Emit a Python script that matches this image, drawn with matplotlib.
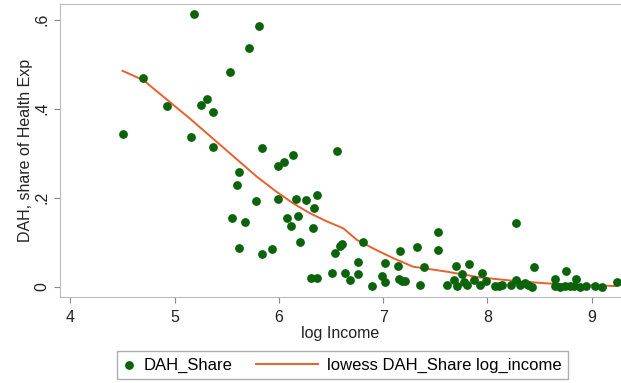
import numpy as np
import matplotlib.pyplot as plt
from matplotlib.legend_handler import HandlerPathCollection
from matplotlib.collections import PathCollection

plt.rcParams['font.family'] = ['Liberation Sans', 'DejaVu Sans']

# DAH share vs log income
log_income = [4.50, 4.70, 4.93, 5.16, 5.19, 5.25, 5.31, 5.37, 5.37, 5.53,
              5.71, 5.81, 5.84, 5.55, 5.60, 5.62, 5.62, 5.68, 5.78, 5.84,
              5.93, 5.99, 5.99, 6.05, 6.14, 6.08, 6.12, 6.16, 6.18, 6.20,
              6.26, 6.33, 6.34, 6.37, 6.31, 6.37, 6.51, 6.54, 6.59, 6.61,
              6.56, 6.63, 6.68, 6.76, 6.76, 6.81, 6.89, 6.99, 7.02, 7.02,
              7.16, 7.14, 7.15, 7.18, 7.21, 7.33, 7.39, 7.35, 7.53, 7.53,
              7.61, 7.70, 7.68, 7.71, 7.76, 7.82, 7.81, 7.78, 7.87, 7.93,
              7.95, 7.99, 8.07, 8.11, 8.14, 8.23, 8.28, 8.28, 8.31, 8.36,
              8.39, 8.43, 8.45, 8.65, 8.65, 8.70, 8.76, 8.75, 8.79, 8.85,
              8.83, 8.89, 8.95, 9.03, 9.10, 9.24]
dah_share = [0.342, 0.469, 0.406, 0.336, 0.613, 0.409, 0.422, 0.392, 0.315, 0.482,
             0.536, 0.585, 0.312, 0.155, 0.229, 0.257, 0.088, 0.145, 0.192, 0.074,
             0.085, 0.197, 0.271, 0.281, 0.297, 0.154, 0.137, 0.197, 0.160, 0.101,
             0.195, 0.132, 0.176, 0.206, 0.020, 0.020, 0.031, 0.075, 0.091, 0.096,
             0.306, 0.031, 0.015, 0.029, 0.056, 0.100, 0.002, 0.025, 0.010, 0.054,
             0.081, 0.047, 0.017, 0.013, 0.013, 0.089, 0.045, 0.005, 0.122, 0.082,
             0.004, 0.047, 0.015, 0.002, 0.029, 0.051, 0.004, 0.011, 0.015, 0.004,
             0.031, 0.013, 0.002, 0.002, 0.004, 0.004, 0.144, 0.015, 0.004, 0.008,
             0.004, 0.000, 0.044, 0.017, 0.002, 0.000, 0.036, 0.002, 0.002, 0.017,
             0.002, 0.000, 0.002, 0.002, 0.000, 0.010]

# lowess fit
lowess_x = [4.50, 4.70, 5.15, 5.47, 5.79, 5.98, 6.14, 6.30, 6.45, 6.62,
            6.75, 6.94, 7.10, 7.29, 7.61, 7.93, 8.25, 8.57, 8.89, 9.24]
lowess_y = [0.485, 0.464, 0.377, 0.312, 0.247, 0.213, 0.187, 0.165, 0.148, 0.131,
            0.105, 0.082, 0.064, 0.045, 0.034, 0.021, 0.0135, 0.0076, 0.004, 0.0016]


class ShortMarkerHandler(HandlerPathCollection):
    # narrow handle box for the scatter entry, like Stata's legend
    def legend_artist(self, legend, orig_handle, fontsize, handlebox):
        handlebox.width = 0.65 * fontsize
        return super().legend_artist(legend, orig_handle, fontsize, handlebox)


fig = plt.figure(figsize=(6.21, 3.83), dpi=100)
ax = fig.add_axes([0.0966, 0.2245, 0.9034, 0.765])

ax.scatter(log_income, dah_share, s=40, color='#0b640b', linewidths=0,
           label='DAH_Share', zorder=3)
ax.plot(lowess_x, lowess_y, color='#e8602c', lw=1.4,
        label='lowess DAH_Share log_income', zorder=2)

ax.set_xlim(3.9, 9.283)
ax.set_ylim(-0.023, 0.635)
ax.set_xticks([4, 5, 6, 7, 8, 9])
ax.set_yticks([0, 0.2, 0.4, 0.6])
ax.set_yticklabels(['0', '.2', '.4', '.6'], rotation=90, va='center')
ax.tick_params(direction='out', length=4, color='#888888', labelsize=11.5,
               labelcolor='#222222')
ax.tick_params(axis='x', pad=5)
for side in ['left', 'bottom', 'top']:
    ax.spines[side].set_color('#bbbbbb')
ax.spines['right'].set_visible(False)

ax.set_xlabel('log Income', fontsize=11.5, color='#222222', labelpad=1)
ax.set_ylabel('DAH, share of Health Exp', fontsize=11.5, color='#222222', labelpad=1)

fig.legend(loc='center', bbox_to_anchor=(0.552, 0.047), ncol=2, fontsize=12,
           frameon=True, fancybox=False, edgecolor='#999999', handlelength=3.7,
           handletextpad=0.55, columnspacing=1.4, borderpad=0.4,
           handler_map={PathCollection: ShortMarkerHandler(numpoints=1)})

fig.savefig('out.png', dpi=100)
